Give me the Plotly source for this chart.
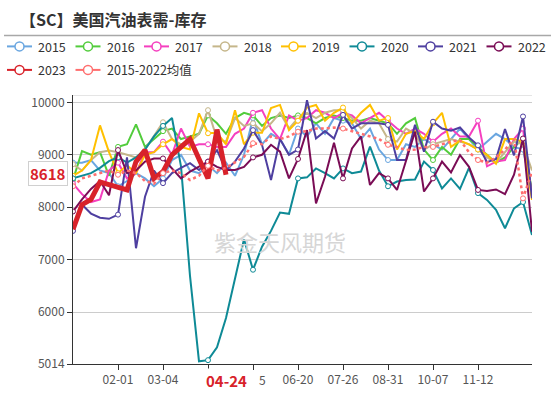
import plotly.graph_objects as go

# ---------------- data ----------------
categories = ["01-04", "01-11", "01-18", "01-22", "01-25", "02-01", "02-08", "02-15", "02-22", "02-26",
              "03-04", "03-11", "03-18", "03-25", "04-03", "04-10", "04-17", "04-24", "05-01", "05-08",
              "05-15", "05-22", "05-29", "06-05", "06-12", "06-20", "06-26", "07-03", "07-10", "07-17",
              "07-26", "07-31", "08-07", "08-14", "08-21", "08-31", "09-04", "09-11", "09-18", "09-25",
              "10-07", "10-09", "10-16", "10-23", "10-30", "11-12", "11-13", "11-20", "11-27", "12-04",
              "12-11", "12-18"]
tick_cats = ["02-01", "03-04", "04-10", "05-15", "06-20", "07-26", "08-31", "10-07", "11-12"]
tick_texts = ["02-01", "03-04", "", "", "06-20", "07-26", "08-31", "10-07", "11-12"]
partial_label_cat = "05-15"   # label partly hidden behind the pointer label; only "5" shows
partial_label_text = "5"
latest_label = "04-24"
latest_value = 8618

y2015 = [8850, 8850, 8900, 8700, 8650, 8400, 8500, 8650, 8550, 8400, 8550, 8900, 9000, 8700, 8650, 8800, 8650, 8850,
         8600, 9000, 9700, 9200, 9400, 9300, 9000, 9500, 9350, 9600, 9400, 9700, 9650, 9600, 9300, 9500, 9100, 8900,
         8900, 9200, 9150, 9300, 9200, 9100, 9300, 9500, 9300, 9100, 9250, 9400, 9300, 9150, 9100, 8300]
y2016 = [8520, 9070, 9000, 9050, 8600, 9150, 9200, 9580, 9150, 9300, 9450, 9500, 9300, 9350, 9400, 9750, 9600, 9400,
         9700, 9800, 9750, 9550, 9700, 9750, 9700, 9750, 9700, 9600, 9700, 9750, 9700, 9650, 9650, 9700, 9650, 9600,
         9400, 9600, 9700, 9100, 8900, 9150, 9000, 9300, 9300, 9150, 9000, 8850, 8950, 9150, 9300, 8300]
y2017 = [8450, 8250, 8100, 8150, 8700, 8850, 8550, 8650, 9050, 9050, 9250, 9000, 9500, 9150, 9200, 9200, 9150, 9150,
         9400, 9500, 9800, 9850, 9500, 9300, 9750, 9650, 9700, 9850, 9800, 9700, 9800, 9750, 9600, 9700, 9800, 9650,
         9500, 9400, 9500, 9400, 9250, 9400, 9500, 9350, 9350, 9650, 8780, 8870, 8900, 9300, 9500, 8200]
y2018 = [8820, 8700, 8900, 9050, 9080, 9050, 9000, 8950, 9100, 9350, 9620, 9300, 9200, 9250, 9400, 9850, 9300, 9250,
         9700, 9550, 9600, 9450, 9600, 9800, 9500, 9700, 9800, 9700, 9800, 9850, 9850, 9700, 9500, 9650, 9600, 9300,
         9250, 9500, 9400, 9100, 9200, 9250, 9300, 9250, 9200, 9100, 8950, 8850, 9050, 9250, 9200, 8700]
y2019 = [8600, 8700, 8900, 9560, 9050, 8650, 8800, 8650, 9000, 9050, 9200, 9300, 9150, 9100, 9790, 9410, 9420, 9200,
         9850, 9200, 9420, 9420, 9890, 9950, 9470, 9650, 9900, 9950, 9650, 9800, 9900, 9600, 9800, 9950, 9650, 9700,
         9100, 9400, 9450, 9300, 9600, 9800, 9150, 9270, 9200, 9100, 9000, 8830, 9300, 9300, 9250, 8140]
y2020 = [8550, 8600, 8650, 8750, 8880, 8950, 8850, 8950, 9100, 9350, 9550, 9700, 8780, 6694, 5065, 5087, 5330, 5890,
         6630, 7390, 6810, 7250, 7550, 7900, 7875, 8550, 8570, 8740, 8650, 8550, 8740, 8650, 8680, 9155, 8700, 8400,
         8490, 8520, 8530, 8870, 8710, 8360, 8550, 8350, 8750, 8270, 8140, 7950, 7600, 7980, 8100, 7470]
y2021 = [7550, 8050, 7880, 7800, 7780, 7860, 8950, 7220, 8200, 8700, 8460, 8650, 8750, 8840, 8710, 8870, 9090, 8710,
         8870, 9120, 9470, 9190, 8520, 9300, 9000, 9100, 10040, 9310, 9450, 9310, 9760, 9500, 9600, 9600, 9600, 9570,
         8900, 8900, 9570, 9060, 9630, 9500, 9460, 9520, 9330, 9180, 8860, 8920, 9490, 8990, 9730, 8170]
y2022 = [7920, 8150, 8350, 8500, 8230, 9090, 8650, 8700, 8870, 8930, 8930, 8740, 8550, 8680, 8770, 8870, 8770, 8710,
         8710, 8770, 8950, 9000, 9190, 9060, 8550, 8920, 9470, 8075, 8580, 9230, 8550, 9120, 9350, 8425, 8650, 8550,
         8330, 8870, 9440, 8300, 8550, 8870, 8665, 8995, 8770, 8330, 8310, 8340, 8250, 8620, 9310, 7535]
y2023 = [7580, 8050, 8150, 8480, 8430, 8380, 8330, 8870, 9090, 8550, 8680, 9000, 9150, 9300, 8920, 8550, 9480, 8618]
y_avg = [8400, 8550, 8600, 8650, 8700, 8620, 8700, 8650, 8500, 8450, 8650, 8700, 8650, 8520, 8600, 8790, 8700, 8750,
         8850, 8960, 9220, 9200, 9350, 9300, 9350, 9440, 9450, 9500, 9500, 9520, 9500, 9450, 9400, 9350, 9300, 9190,
         9150, 9090, 9100, 9150, 9150, 9200, 9250, 9280, 9050, 8900, 8850, 8950, 9100, 9300, 8170, 8680]

y_min, y_max = 5014, 10139
y_ticks = [5014, 6000, 7000, 8000, 9000, 10000]

series_names = ["2015", "2016", "2017", "2018", "2019", "2020", "2021", "2022", "2023", "2015-2022均值"]
series_values = [y2015, y2016, y2017, y2018, y2019, y2020, y2021, y2022, y2023, y_avg]

# ---------------- style ----------------
colors = ["#6AA6E0", "#52CC3C", "#F53FBF", "#C5B68A", "#FFC000", "#0E8A96", "#4E3FA0", "#7A0C55", "#D8222A", "#FF6E6E"]
FONT = "Noto Sans CJK SC, Noto Sans, sans-serif"
W, H = 551, 393
L, R, T, B = 73, 19, 95, 29
PW, PH = W - L - R, H - T - B


def px(x):
    return (x - L) / PW


def py(y):
    return (H - B - y) / PH


fig = go.Figure()
for name, vals, col in zip(series_names, series_values, colors):
    is_latest = name == "2023"
    is_avg = name.endswith("均值")
    n = len(vals)
    fig.add_trace(go.Scatter(
        x=categories[:n], y=vals, name=name, mode="lines" if is_latest else "lines+markers",
        line=dict(color=col, width=5 if is_latest else (2.5 if is_avg else 2),
                  dash="dot" if is_avg else "solid"),
        marker=dict(symbol="circle", size=5, color="white",
                    line=dict(color=col, width=1),
                    opacity=[1 if i % 5 == 0 else 0 for i in range(n)]),
        hoverinfo="skip",
    ))

shapes = []
annotations = []

# title + separator
annotations.append(dict(text="<b>【SC】美国汽油表需-库存</b>", xref="paper", yref="paper",
                        x=px(18), y=py(19), xanchor="left", yanchor="middle", showarrow=False,
                        font=dict(size=16, color="#333", family=FONT)))
shapes.append(dict(type="line", xref="paper", yref="paper", x0=px(4), x1=px(551), y0=py(35.5), y1=py(35.5),
                   line=dict(color="#a8a8a8", width=1.5)))

# legend (manual, echarts-like)
for k, (name, col) in enumerate(zip(series_names, colors)):
    row, colk = divmod(k, 8)
    sx = 7 + 68.5 * colk
    yy = py(46.4 + 23.5 * row)
    shapes.append(dict(type="line", xref="paper", yref="paper", x0=px(sx), x1=px(sx + 25), y0=yy, y1=yy,
                       line=dict(color=col, width=2)))
    shapes.append(dict(type="circle", xref="paper", yref="paper", xsizemode="pixel", ysizemode="pixel",
                       xanchor=px(sx + 12.5), yanchor=yy, x0=-4.5, x1=4.5, y0=-4.5, y1=4.5,
                       fillcolor="white", line=dict(color=col, width=1.5)))
    annotations.append(dict(text=name, xref="paper", yref="paper", x=px(sx + 29), y=yy,
                            xanchor="left", yanchor="middle", showarrow=False,
                            font=dict(size=12.5, color="#333", family=FONT)))

# top boundary grid line
shapes.append(dict(type="line", xref="paper", yref="y", x0=0, x1=1, y0=y_max, y1=y_max,
                   line=dict(color="#cccccc", width=1), layer="below"))

# watermark
annotations.append(dict(text="紫金天风期货", xref="paper", yref="paper", x=px(280), y=py(241),
                        xanchor="center", yanchor="middle", showarrow=False,
                        font=dict(size=22, color="#d6d6d6", family=FONT)))

# visible tail of the partly covered x label
annotations.append(dict(text=partial_label_text, xref="x", yref="paper",
                        x=categories.index(partial_label_cat), y=py(379), xanchor="right", yanchor="middle",
                        xshift=15, showarrow=False, font=dict(size=12, color="#555", family=FONT)))

# axis pointer labels
annotations.append(dict(text="<b>" + latest_label + "</b>", xref="x", yref="paper",
                        x=categories.index(latest_label), y=py(380), xanchor="center", yanchor="middle",
                        showarrow=False, bgcolor="white",
                        font=dict(size=15, color="#D8222A", family=FONT)))
annotations.append(dict(text="<b>%d</b>" % latest_value, xref="paper", yref="y",
                        x=px(68), y=latest_value, xanchor="right", yanchor="middle", yshift=1,
                        showarrow=False, bgcolor="white", bordercolor="#d0d0d0", borderwidth=1, borderpad=1,
                        font=dict(size=15, color="#D8222A", family=FONT)))

fig.update_layout(
    width=W, height=H, margin=dict(l=L, r=R, t=T, b=B, pad=0),
    paper_bgcolor="white", plot_bgcolor="white", showlegend=False,
    font=dict(family=FONT, color="#555"),
    shapes=shapes, annotations=annotations,
    xaxis=dict(type="category", categoryorder="array", categoryarray=categories,
               range=[0, len(categories) - 1], tickmode="array",
               tickvals=tick_cats, ticktext=tick_texts, automargin=False,
               showgrid=False, zeroline=False, showline=True, linecolor="#333", linewidth=1,
               ticks="outside", ticklen=5, tickcolor="#333",
               tickfont=dict(size=12, color="#555", family=FONT)),
    yaxis=dict(range=[y_min, y_max], tickmode="array", tickvals=y_ticks,
               ticktext=[str(v) for v in y_ticks], automargin=False,
               showgrid=True, gridcolor="#cccccc", gridwidth=1, zeroline=False,
               showline=True, linecolor="#333", linewidth=1,
               ticks="outside", ticklen=5, tickcolor="#333",
               tickfont=dict(size=12, color="#555", family=FONT)),
)

fig.write_html("out.html", config={"displayModeBar": False},
               post_script="document.body.style.margin='0px';")
